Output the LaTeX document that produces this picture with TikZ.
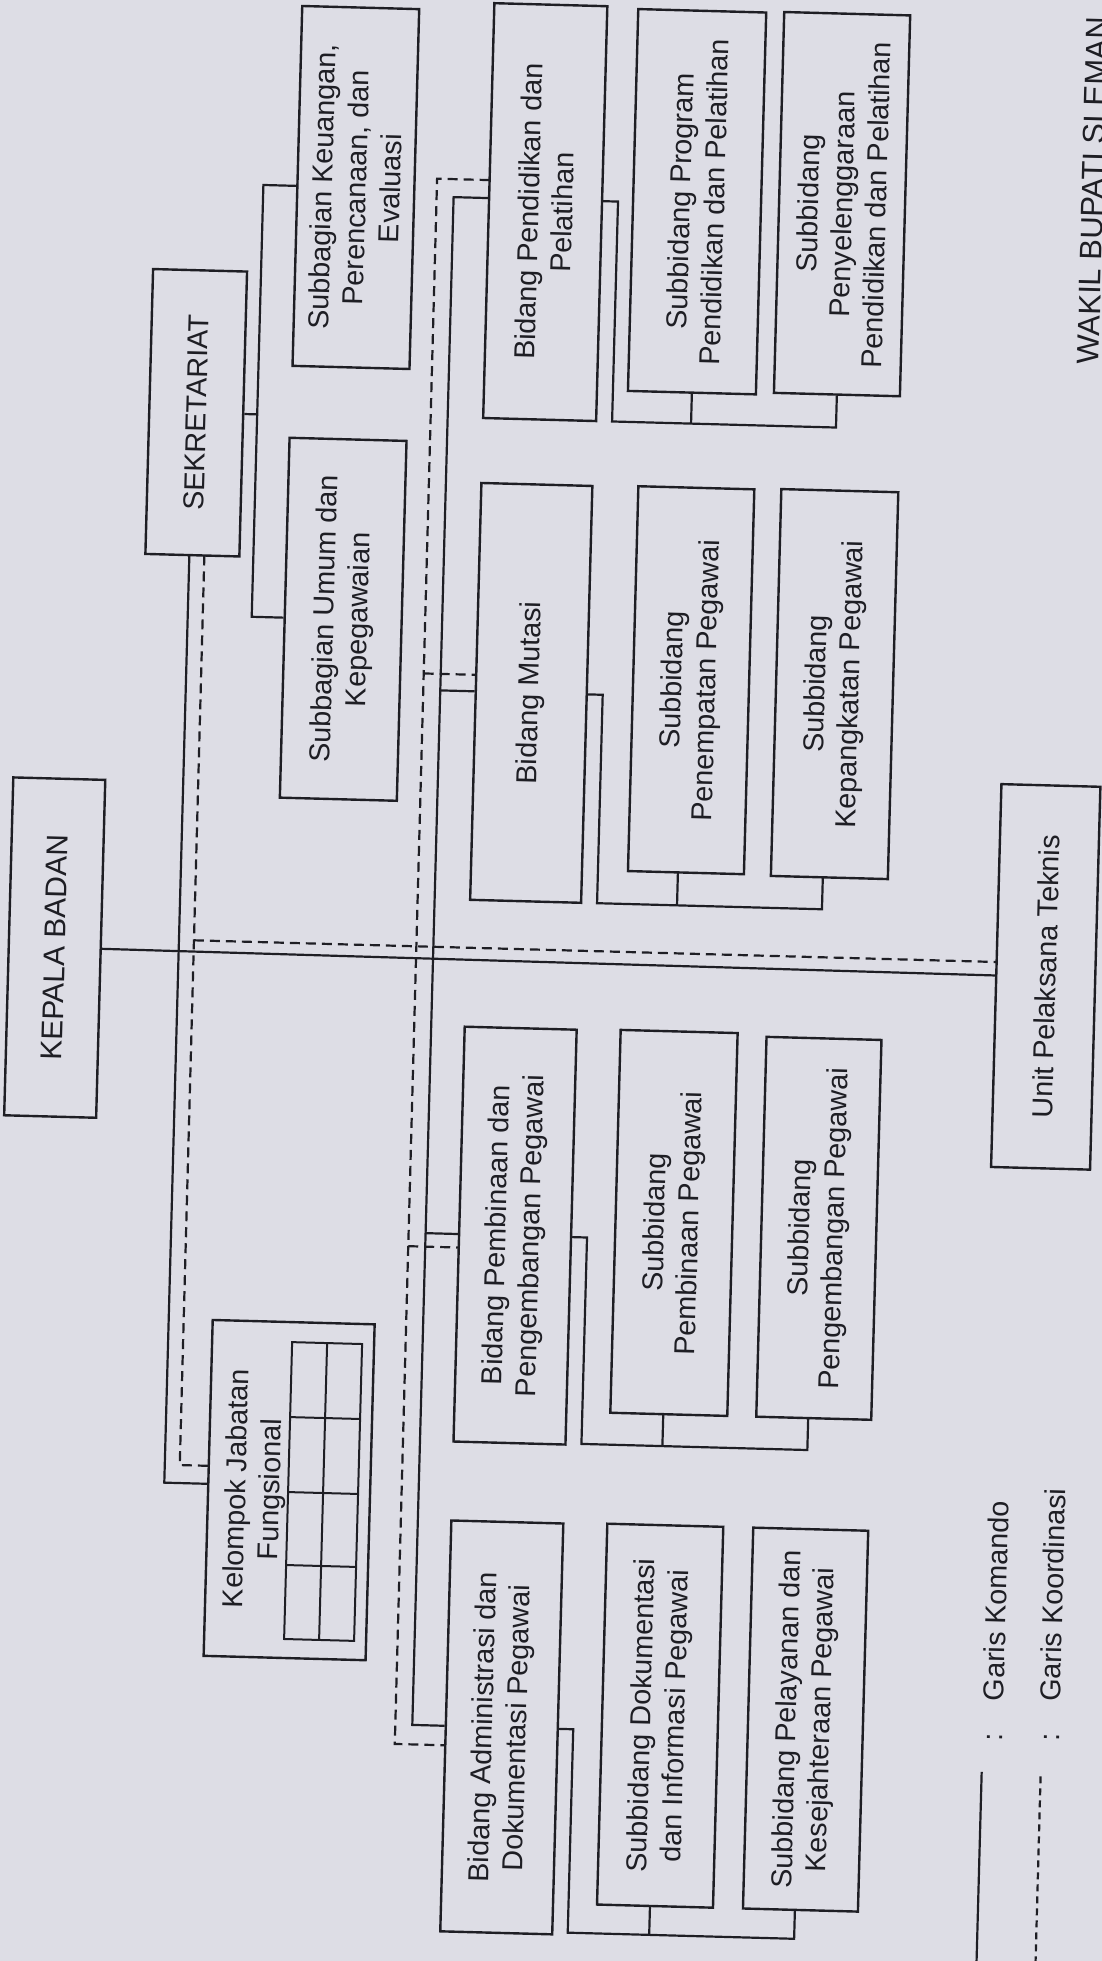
\documentclass[tikz,border=0pt]{standalone}
\usepackage{fontspec}
\setmainfont{Liberation Sans}
\definecolor{bgcol}{RGB}{221,221,229}
\definecolor{ink}{RGB}{30,30,36}
\begin{document}
\begin{tikzpicture}[x=0.5pt,y=-0.5pt,
  box/.style={draw=ink, line width=1.2pt, fill=bgcol, rotate=90, inner sep=0pt,
    align=center, text=ink, font=\fontsize{14.4pt}{17pt}\selectfont},
  lbl/.style={rotate=90, inner sep=0pt, align=center, text=ink, font=\fontsize{14.4pt}{17pt}\selectfont},
  cmd/.style={draw=ink, line width=1.1pt},
  crd/.style={draw=ink, line width=1.1pt, dash pattern=on 5pt off 3pt},
  crdl/.style={draw=ink, line width=1.1pt, dash pattern=on 3.5pt off 2.5pt}]
\useasboundingbox (0,0) rectangle (1102,1961);
\fill[bgcol] (0,0) rectangle (1102,1961);
\clip (0,0) rectangle (1102,1961);
\begin{scope}[rotate around={-1.55:(551,980)}, transform shape]
% ---------- boxes ----------
\node[box, minimum width=169pt, minimum height=46pt, font=\fontsize{15pt}{17pt}\selectfont] (kepala) at (54,961) {KEPALA BADAN};
\node[box, minimum width=142.5pt, minimum height=47pt] (sek) at (181,422.5) {SEKRETARIAT};
\node[box, minimum width=180pt, minimum height=58.5pt] (keu) at (334.5,193) {Subbagian Keuangan,\\Perencanaan, dan\\Evaluasi};
\node[box, minimum width=180pt, minimum height=58.5pt] (umum) at (333.5,625) {Subbagian Umum dan\\Kepegawaian};
\node[box, minimum width=168pt, minimum height=81pt] (kjf) at (303,1497) {};
\node[lbl] (kjft) at (269,1497) {Kelompok Jabatan\\Fungsional};
\node[box, minimum width=191.5pt, minimum height=49.5pt] (upt) at (1045.5,963.5) {Unit Pelaksana Teknis};
\node[box, minimum width=207.5pt, minimum height=56.5pt] (bpend) at (524.5,212.5) {Bidang Pendidikan dan\\Pelatihan};
\node[box, minimum width=191pt, minimum height=64pt] (sprog) at (676,198) {Subbidang Program\\Pendidikan dan Pelatihan};
\node[box, minimum width=190.5pt, minimum height=63pt] (spenyel) at (821,196.5) {Subbidang\\Penyelenggaraan\\Pendidikan dan Pelatihan};
\node[box, minimum width=208.5pt, minimum height=55.5pt] (bmut) at (523.5,693.5) {Bidang Mutasi};
\node[box, minimum width=192.5pt, minimum height=58pt] (spenem) at (683,676.5) {Subbidang\\Penempatan Pegawai};
\node[box, minimum width=193.5pt, minimum height=58.5pt] (skepang) at (826.5,676.5) {Subbidang\\Kepangkatan Pegawai};
\node[box, minimum width=207.5pt, minimum height=56pt] (bbina) at (522,1236.5) {Bidang Pembinaan dan\\Pengembangan Pegawai};
\node[box, minimum width=191.5pt, minimum height=58.5pt] (sbina) at (680.5,1219.5) {Subbidang\\Pembinaan Pegawai};
\node[box, minimum width=190pt, minimum height=57.5pt] (skemb) at (825.5,1221) {Subbidang\\Pengembangan Pegawai};
\node[box, minimum width=205.5pt, minimum height=56pt] (badm) at (522,1728.5) {Bidang Administrasi dan\\Dokumentasi Pegawai};
\node[box, minimum width=190.5pt, minimum height=58pt] (sdok) at (680,1712.5) {Subbidang Dokumentasi\\dan Informasi Pegawai};
\node[box, minimum width=190.5pt, minimum height=57.5pt] (splay) at (825.5,1712.5) {Subbidang Pelayanan dan\\Kesejahteraan Pegawai};
% grid inside Kelompok Jabatan Fungsional
\draw[ink, line width=1pt] (302,1349) rectangle (372,1646);
\draw[ink, line width=1pt] (337,1349) -- (337,1646);
\draw[ink, line width=1pt] (302,1424) -- (372,1424) (302,1499) -- (372,1499) (302,1572) -- (372,1572);
% ---------- command lines ----------
\draw[cmd] (kepala.south) -- (upt.north);
\coordinate (sb1) at (242,193); \coordinate (sb2) at (242,422.5); \coordinate (sb3) at (242,625);
\draw[cmd] (keu.north) -- (sb1) -- (sb3) -- (umum.north);
\draw[cmd] (sek.south) -- (sb2);
\coordinate (sa0) at (178,565); \coordinate (sa1) at (178,1493); \coordinate (sa2) at (222,1493);
\draw[cmd] (sa0) -- (sa1) -- (sa2);
% spine
\coordinate (bp0) at (468,200); \coordinate (sp0) at (432.5,200);
\coordinate (sp1) at (432.5,693.5); \coordinate (sp2) at (432.5,1236.5); \coordinate (sp3) at (432.5,1728.5);
\draw[cmd] (bp0) -- (sp0) -- (sp3) -- (badm.north);
\draw[cmd] (sp1) -- (bmut.north);
\draw[cmd] (sp2) -- (bbina.north);
% Pendidikan bracket
\coordinate (pb0) at (581,200); \coordinate (pb1) at (597,200); \coordinate (pb2) at (597,420);
\coordinate (pb3) at (821,420); \coordinate (pb4) at (676,420);
\draw[cmd] (pb0) -- (pb1) -- (pb2) -- (pb3) -- (spenyel.west);
\draw[cmd] (sprog.west) -- (pb4);
% Mutasi bracket
\coordinate (mb1) at (595,693.5); \coordinate (mb2) at (595,902); \coordinate (mb3) at (820,902);
\coordinate (mb4) at (675,902); \coordinate (mb5) at (675,869); \coordinate (mb6) at (820,870);
\draw[cmd] (bmut.south) -- (mb1) -- (mb2) -- (mb3) -- (mb6);
\draw[cmd] (mb5) -- (mb4);
% Pembinaan bracket
\coordinate (nb1) at (594,1236.5); \coordinate (nb2) at (594,1443); \coordinate (nb3) at (820,1443);
\coordinate (nb4) at (675,1443); \coordinate (nb5) at (675,1411); \coordinate (nb6) at (820,1411);
\draw[cmd] (bbina.south) -- (nb1) -- (nb2) -- (nb3) -- (nb6);
\draw[cmd] (nb5) -- (nb4);
% Administrasi bracket
\coordinate (ab1) at (593.5,1728.5); \coordinate (ab2) at (593.5,1932); \coordinate (ab3) at (820,1932);
\coordinate (ab4) at (675,1932); \coordinate (ab5) at (675,1903); \coordinate (ab6) at (820,1903);
\draw[cmd] (badm.south) -- (ab1) -- (ab2) -- (ab3) -- (ab6);
\draw[cmd] (ab5) -- (ab4);
% ---------- coordination lines ----------
\coordinate (sd0) at (193,565); \coordinate (sd1) at (193,1475); \coordinate (sd2) at (222,1475);
\draw[crd] (sd0) -- (sd1) -- (sd2);
\coordinate (md0) at (193,950); \coordinate (md1) at (996,950);
\draw[crd] (md0) -- (md1);
\coordinate (dp0) at (468,182); \coordinate (dp1) at (415.5,182); \coordinate (dp2) at (415.5,677);
\coordinate (dp3) at (468,677); \coordinate (dp4) at (415.5,1250); \coordinate (dp5) at (466,1250);
\coordinate (dp6) at (415.5,1748); \coordinate (dp7) at (466,1748);
\draw[crd] (dp0) -- (dp1) -- (dp6) -- (dp7);
\draw[crd] (dp2) -- (dp3);
\draw[crd] (dp4) -- (dp5);
% ---------- legend ----------
\coordinate (lg0) at (1003,1760); \coordinate (lg1) at (1003,1995);
\draw[cmd] (lg0) -- (lg1);
\coordinate (lk0) at (1062,1763); \coordinate (lk1) at (1062,1995);
\draw[crdl] (lk0) -- (lk1);
\node[lbl, anchor=base west] (lgt1) at (1023,1729) {:\hspace{16pt}Garis Komando};
\node[lbl, anchor=base west] (lgt2) at (1079.5,1728) {:\hspace{16pt}Garis Koordinasi};
% ---------- cut-off heading ----------
\node[lbl, anchor=base, font=\fontsize{15.5pt}{17pt}\selectfont] (wakil) at (1082,176) {WAKIL BUPATI SLEMAN};
\end{scope}
\end{tikzpicture}
\end{document}
